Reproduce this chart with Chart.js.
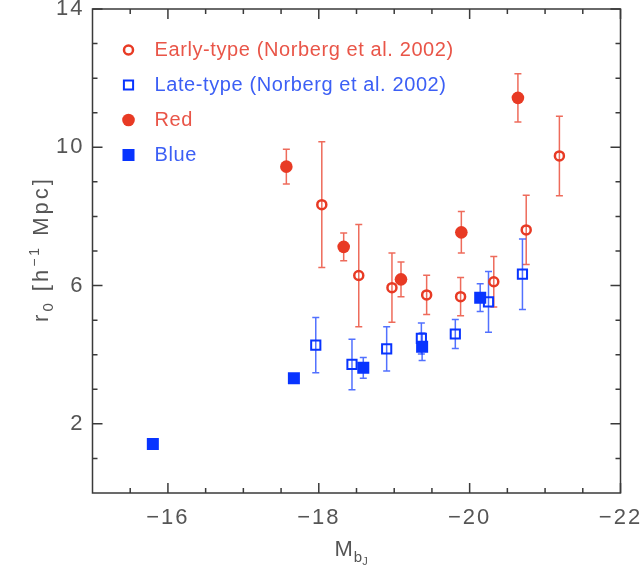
<!DOCTYPE html>
<html>
<head>
<meta charset="utf-8">
<script src="https://cdn.jsdelivr.net/npm/chart.js@4.4.1/dist/chart.umd.min.js"></script>
<style>
  html, body { margin: 0; padding: 0; background: #fff; }
  canvas { display: block; }
</style>
</head>
<body>
<canvas id="chart" width="642" height="565"></canvas>
<script>
// Early-type (Norberg et al. 2002) - open red circles
const earlyX = [-18.04, -18.53, -18.97, -19.43, -19.88, -20.32, -20.75, -21.19];
const earlyY = [8.34, 6.29, 5.94, 5.73, 5.68, 6.11, 7.61, 9.75];
const earlyErr = [1.82, 1.48, 1.0, 0.57, 0.55, 0.73, 1.0, 1.15];

// Late-type (Norberg et al. 2002) - open blue squares
const lateX = [-17.96, -18.44, -18.90, -19.36, -19.81, -20.25, -20.70];
const lateY = [4.28, 3.72, 4.17, 4.47, 4.60, 5.53, 6.33];
const lateErr = [0.8, 0.73, 0.64, 0.45, 0.42, 0.88, 1.02];

// Red - filled circles
const redX = [-17.57, -18.33, -19.09, -19.89, -20.64];
const redY = [9.44, 7.12, 6.18, 7.54, 11.43];
const redErr = [0.5, 0.4, 0.5, 0.6, 0.7];

// Blue - filled squares
const blueX = [-15.80, -17.67, -18.59, -19.37, -20.14];
const blueY = [1.42, 3.32, 3.62, 4.23, 5.65];
const blueErr = [0, 0.1, 0.3, 0.4, 0.4];

// tick values
const xTickLabels = [-16, -18, -20, -22];
const xMinorTicks = [-15.5, -16.5, -17, -17.5, -18.5, -19, -19.5, -20.5, -21, -21.5];
const yTickLabels = [2, 6, 10, 14];
const yMinorTicks = [1, 3, 4, 5, 7, 8, 9, 11, 12, 13];

const legendLabels = [
    "Early-type (Norberg et al. 2002)",
    "Late-type (Norberg et al. 2002)",
    "Red",
    "Blue"
];

const RED = "rgb(232, 58, 36)";
const BLUE = "rgb(8, 52, 255)";
const RED_TEXT = "rgb(233, 85, 72)";
const BLUE_TEXT = "rgb(60, 95, 245)";
const FONT = "'Liberation Sans', Arial, sans-serif";

function toPoints(xs, ys) {
    return xs.map((x, i) => ({ x: x, y: ys[i] }));
}

const minus = v => (v < 0 ? "\u2212" + Math.abs(v) : String(v));

// wider letter spacing for the tick labels, like the original plot
const spacing = {
    id: "spacing",
    beforeDraw(chart) { chart.ctx.letterSpacing = "2px"; },
    afterDraw(chart) { chart.ctx.letterSpacing = "0px"; }
};

// error bars are drawn under the markers
const errorBars = {
    id: "errorBars",
    beforeDatasetsDraw(chart) {
        const ctx = chart.ctx;
        const xs = chart.scales.x;
        const ys = chart.scales.y;
        chart.data.datasets.forEach(ds => {
            ctx.save();
            ctx.strokeStyle = ds.errorColor;
            ctx.lineWidth = 1.5;
            ds.data.forEach((p, i) => {
                const e = ds.errors[i];
                if (!e) return;
                const px = xs.getPixelForValue(p.x);
                const top = ys.getPixelForValue(p.y + e);
                const bot = ys.getPixelForValue(p.y - e);
                ctx.beginPath();
                ctx.moveTo(px, top);
                ctx.lineTo(px, bot);
                ctx.moveTo(px - 3.5, top);
                ctx.lineTo(px + 3.5, top);
                ctx.moveTo(px - 3.5, bot);
                ctx.lineTo(px + 3.5, bot);
                ctx.stroke();
            });
            ctx.restore();
        });
    }
};

// box, inward ticks, legend and axis titles
const frame = {
    id: "frame",
    afterDraw(chart) {
        const ctx = chart.ctx;
        const a = chart.chartArea;
        const xs = chart.scales.x;
        const ys = chart.scales.y;
        ctx.save();
        ctx.letterSpacing = "0px";
        ctx.strokeStyle = "#3a3a3a";
        ctx.lineWidth = 1.5;
        ctx.strokeRect(a.left, a.top, a.right - a.left, a.bottom - a.top);

        ctx.beginPath();
        const xTick = (v, len) => {
            const px = xs.getPixelForValue(v);
            ctx.moveTo(px, a.bottom); ctx.lineTo(px, a.bottom - len);
            ctx.moveTo(px, a.top); ctx.lineTo(px, a.top + len);
        };
        const yTick = (v, len) => {
            const py = ys.getPixelForValue(v);
            ctx.moveTo(a.left, py); ctx.lineTo(a.left + len, py);
            ctx.moveTo(a.right, py); ctx.lineTo(a.right - len, py);
        };
        xTickLabels.forEach(v => xTick(v, 10));
        xMinorTicks.forEach(v => xTick(v, 5));
        yTickLabels.forEach(v => yTick(v, 10));
        yMinorTicks.forEach(v => yTick(v, 5));
        ctx.stroke();

        // legend
        const styles = [
            { pointStyle: "circle", radius: 4.5, borderWidth: 2.5, borderColor: RED, backgroundColor: "rgba(0,0,0,0)" },
            { pointStyle: "rect", radius: 6.5, borderWidth: 2, borderColor: BLUE, backgroundColor: "rgba(0,0,0,0)" },
            { pointStyle: "circle", radius: 6.3, borderWidth: 0, borderColor: RED, backgroundColor: RED },
            { pointStyle: "rect", radius: 8.5, borderWidth: 0, borderColor: BLUE, backgroundColor: BLUE }
        ];
        const colors = [RED_TEXT, BLUE_TEXT, RED_TEXT, BLUE_TEXT];
        ctx.textBaseline = "middle";
        legendLabels.forEach((label, i) => {
            const y = a.top + 41 + i * 35;
            const st = styles[i];
            ctx.fillStyle = st.backgroundColor;
            ctx.strokeStyle = st.borderColor;
            ctx.lineWidth = st.borderWidth;
            Chart.helpers.drawPoint(ctx, { pointStyle: st.pointStyle, radius: st.radius, borderWidth: st.borderWidth }, a.left + 36, y);
            ctx.font = "20px " + FONT;
            ctx.letterSpacing = "0.6px";
            ctx.fillStyle = colors[i];
            ctx.fillText(label, a.left + 62, y);
            ctx.letterSpacing = "0px";
        });

        // x title: M_bJ
        ctx.fillStyle = "#555";
        ctx.textBaseline = "alphabetic";
        ctx.textAlign = "left";
        let tx = (a.left + a.right) / 2 - 22;
        ctx.font = "22px " + FONT;
        ctx.fillText("M", tx, 556);
        tx += ctx.measureText("M").width + 1;
        ctx.font = "15px " + FONT;
        ctx.fillText("b", tx, 562);
        tx += ctx.measureText("b").width;
        ctx.font = "11px " + FONT;
        ctx.fillText("J", tx, 565);

        // y title: r_0 [h^-1 Mpc]
        ctx.letterSpacing = "3px";
        const parts = [
            { t: "r", size: 22, dy: 0 },
            { t: "0", size: 15, dy: 5 },
            { t: " [h", size: 22, dy: 0 },
            { t: "\u22121", size: 14, dy: -9 },
            { t: " Mpc]", size: 22, dy: 0 }
        ];
        let total = 0;
        parts.forEach(p => { ctx.font = p.size + "px " + FONT; p.w = ctx.measureText(p.t).width; total += p.w; });
        ctx.translate(48, (a.top + a.bottom) / 2 - 2);
        ctx.rotate(-Math.PI / 2);
        let px = -total / 2;
        parts.forEach(p => {
            ctx.font = p.size + "px " + FONT;
            ctx.fillText(p.t, px, p.dy);
            px += p.w;
        });
        ctx.restore();
    }
};

const tickFont = { family: FONT, size: 22 };

new Chart(document.getElementById("chart"), {
    type: "scatter",
    data: {
        datasets: [
            {
                label: "Red",
                data: toPoints(redX, redY),
                errors: redErr,
                errorColor: "rgba(232, 58, 36, 0.75)",
                pointStyle: "circle",
                pointRadius: 6.3,
                pointBorderWidth: 0,
                backgroundColor: RED,
                borderColor: RED
            },
            {
                label: "Blue",
                data: toPoints(blueX, blueY),
                errors: blueErr,
                errorColor: "rgba(8, 52, 255, 0.7)",
                pointStyle: "rect",
                pointRadius: 8.5,
                pointBorderWidth: 0,
                backgroundColor: BLUE,
                borderColor: BLUE
            },
            {
                label: legendLabels[0],
                data: toPoints(earlyX, earlyY),
                errors: earlyErr,
                errorColor: "rgba(232, 58, 36, 0.75)",
                pointStyle: "circle",
                pointRadius: 4.5,
                pointBorderWidth: 2.5,
                backgroundColor: "rgba(0,0,0,0)",
                borderColor: RED
            },
            {
                label: legendLabels[1],
                data: toPoints(lateX, lateY),
                errors: lateErr,
                errorColor: "rgba(8, 52, 255, 0.7)",
                pointStyle: "rect",
                pointRadius: 6.5,
                pointBorderWidth: 2,
                backgroundColor: "rgba(0,0,0,0)",
                borderColor: BLUE
            }
        ]
    },
    options: {
        responsive: false,
        animation: false,
        devicePixelRatio: 1,
        layout: { padding: { top: 9, right: 21.5, left: 0, bottom: 0 } },
        plugins: {
            legend: { display: false },
            tooltip: { enabled: false }
        },
        scales: {
            x: {
                type: "linear",
                min: -22,
                max: -15,
                reverse: true,
                grid: { display: false, drawTicks: false },
                border: { display: false },
                afterBuildTicks: s => { s.ticks = xTickLabels.map(v => ({ value: v })); },
                afterFit: s => { s.height = 72; s.paddingLeft = 0; s.paddingRight = 0; },
                ticks: {
                    autoSkip: false,
                    maxRotation: 0,
                    padding: 12,
                    color: "#555",
                    font: tickFont,
                    callback: v => minus(v)
                }
            },
            y: {
                type: "linear",
                min: 0,
                max: 14,
                grid: { display: false, drawTicks: false },
                border: { display: false },
                afterBuildTicks: s => { s.ticks = yTickLabels.map(v => ({ value: v })); },
                afterFit: s => { s.width = 92.5; s.paddingTop = 0; s.paddingBottom = 0; },
                ticks: {
                    autoSkip: false,
                    padding: 8,
                    color: "#555",
                    font: tickFont,
                    callback: v => minus(v)
                }
            }
        }
    },
    plugins: [spacing, errorBars, frame]
});
</script>
</body>
</html>
